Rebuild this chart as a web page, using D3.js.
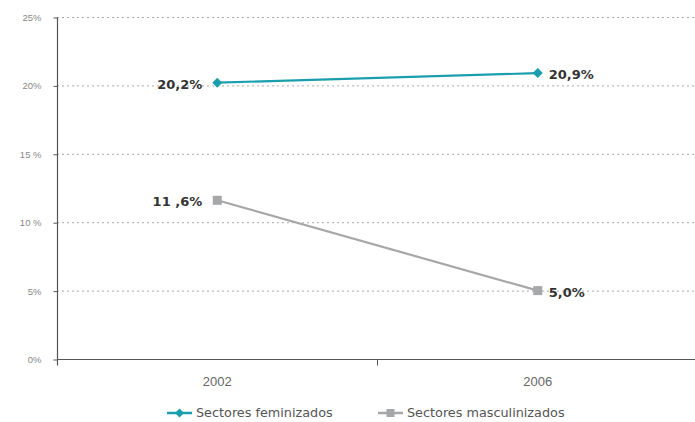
<!DOCTYPE html>
<html>
<head>
<meta charset="utf-8">
<script src="https://cdn.jsdelivr.net/npm/d3@7"></script>
<style>
  body { margin: 0; background: #fff; }
  svg { display: block; font-family: 'DejaVu Sans', sans-serif; }
</style>
</head>
<body>
<div id="chart"></div>
<script>
'use strict';

var years = ['2002', '2006'];
var feminizados = [20.2, 20.9];
var masculinizados = [11.6, 5.0];
var femLabels = ['20,2%', '20,9%'];
var mascLabels = ['11 ,6%', '5,0%'];
var yTicks = [0, 5, 10, 15, 20, 25];
var yTickLabels = ['0%', '5%', '10 %', '15 %', '20%', '25%'];
var seriesNames = ['Sectores feminizados', 'Sectores masculinizados'];

var width = 695;
var height = 422;
var margin = { top: 17, right: -3, bottom: 63, left: 57 };

var tealColor = '#1a9ead';
var grayColor = '#a6a7a9';
var axisColor = '#555';

var svg = d3.select('#chart').append('svg')
  .attr('width', width)
  .attr('height', height);

var x = d3.scaleBand()
  .domain(years)
  .range([margin.left, width - margin.right]);

var y = d3.scaleLinear()
  .domain([0, 25])
  .range([height - margin.bottom, margin.top]);

// grid lines
svg.append('g').selectAll('line')
  .data(yTicks.filter(function (d) { return d > 0; }))
  .enter().append('line')
  .attr('x1', margin.left)
  .attr('x2', width)
  .attr('y1', function (d) { return y(d) + 0.5; })
  .attr('y2', function (d) { return y(d) + 0.5; })
  .attr('stroke', '#aaa')
  .attr('stroke-width', 1)
  .attr('stroke-dasharray', '2,3');

// y axis
var yAxis = d3.axisLeft(y)
  .tickValues(yTicks)
  .tickSize(4)
  .tickPadding(12)
  .tickFormat(function (d, i) { return yTickLabels[i]; });

var gy = svg.append('g')
  .attr('transform', 'translate(' + (margin.left + 0.5) + ',0.5)')
  .call(yAxis);
gy.select('.domain').attr('stroke', axisColor).attr('stroke-width', 1.2)
  .attr('d', 'M0,' + y(25) + 'V' + (y(0) + 6));
gy.selectAll('.tick line').attr('stroke', axisColor);
gy.selectAll('.tick text').attr('fill', '#888').attr('font-size', 9.5);

// x axis
var xAxis = d3.axisBottom(x).tickSize(0).tickPadding(17);
var gx = svg.append('g')
  .attr('transform', 'translate(0,' + (y(0) + 0.5) + ')')
  .call(xAxis);
gx.select('.domain').attr('stroke', axisColor).attr('stroke-width', 1.2)
  .attr('d', 'M' + margin.left + ',0H' + width);
gx.selectAll('.tick text').attr('fill', '#666').attr('font-size', 13);
// category boundary tick
gx.append('line')
  .attr('x1', x(years[1]))
  .attr('x2', x(years[1]))
  .attr('y1', 0)
  .attr('y2', 6)
  .attr('stroke', axisColor);

function cx(d, i) { return x(years[i]) + x.bandwidth() / 2; }

var line = d3.line()
  .x(function (d, i) { return cx(d, i); })
  .y(function (d) { return y(d); });

var diamond = d3.symbol().type(d3.symbolSquare).size(50);

// masculinizados line
svg.append('path')
  .datum(masculinizados)
  .attr('d', line)
  .attr('fill', 'none')
  .attr('stroke', grayColor)
  .attr('stroke-width', 2.2);

svg.append('g').selectAll('rect')
  .data(masculinizados)
  .enter().append('rect')
  .attr('x', function (d, i) { return cx(d, i) - 4.5; })
  .attr('y', function (d) { return y(d) - 4.5; })
  .attr('width', 9)
  .attr('height', 9)
  .attr('fill', grayColor);

// feminizados line
svg.append('path')
  .datum(feminizados)
  .attr('d', line)
  .attr('fill', 'none')
  .attr('stroke', tealColor)
  .attr('stroke-width', 2.2);

svg.append('g').selectAll('path')
  .data(feminizados)
  .enter().append('path')
  .attr('d', diamond)
  .attr('transform', function (d, i) { return 'translate(' + cx(d, i) + ',' + y(d) + ') rotate(45)'; })
  .attr('fill', tealColor);

// value labels
function addLabels(values, labels) {
  svg.append('g').selectAll('text')
    .data(values)
    .enter().append('text')
    .attr('x', function (d, i) { return i === 0 ? cx(d, i) - 15 : cx(d, i) + 11; })
    .attr('y', function (d) { return y(d) + 1.5; })
    .attr('dy', '0.35em')
    .attr('text-anchor', function (d, i) { return i === 0 ? 'end' : 'start'; })
    .attr('font-size', 13)
    .attr('font-weight', 'bold')
    .attr('fill', '#333')
    .text(function (d, i) { return labels[i]; });
}
addLabels(feminizados, femLabels);
addLabels(masculinizados, mascLabels);

// legend
var legendY = 413;
var legendX = [167, 378];
var legendColors = [tealColor, grayColor];
seriesNames.forEach(function (name, i) {
  var g = svg.append('g').attr('transform', 'translate(' + legendX[i] + ',' + legendY + ')');
  g.append('line')
    .attr('x1', 0).attr('x2', 25).attr('y1', 0).attr('y2', 0)
    .attr('stroke', legendColors[i]).attr('stroke-width', 2.5);
  if (i === 0) {
    g.append('path')
      .attr('d', d3.symbol().type(d3.symbolSquare).size(40))
      .attr('transform', 'translate(12.5,0) rotate(45)')
      .attr('fill', legendColors[i]);
  } else {
    g.append('rect')
      .attr('x', 8.5).attr('y', -4).attr('width', 8).attr('height', 8)
      .attr('fill', legendColors[i]);
  }
  g.append('text')
    .attr('x', 29).attr('y', 0).attr('dy', '0.35em')
    .attr('font-size', 12.8)
    .attr('fill', '#555')
    .text(name);
});
</script>
</body>
</html>
